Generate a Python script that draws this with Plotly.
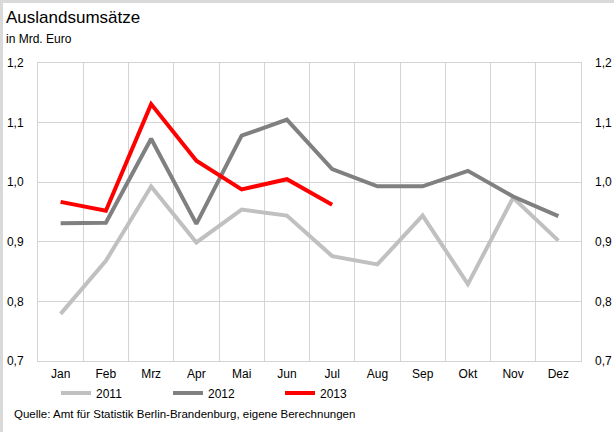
import plotly.graph_objects as go

months = ["Jan", "Feb", "Mrz", "Apr", "Mai", "Jun", "Jul", "Aug", "Sep", "Okt", "Nov", "Dez"]
v2011 = [0.779, 0.868, 0.993, 0.899, 0.954, 0.944, 0.876, 0.862, 0.944, 0.829, 0.974, 0.902]
v2012 = [0.931, 0.932, 1.073, 0.930, 1.078, 1.105, 1.022, 0.993, 0.993, 1.019, 0.976, 0.943]
v2013 = [0.967, 0.952, 1.131, 1.036, 0.988, 1.005, 0.962]
series_names = ["2011", "2012", "2013"]
series_colors = ["#c0c0c0", "#808080", "#ff0000"]
y_ticks = [0.7, 0.8, 0.9, 1.0, 1.1, 1.2]

FONT = "Liberation Sans, Arial, sans-serif"
GRID = "#d4d4d4"

fig = go.Figure()
for name, vals, col in zip(series_names, [v2011, v2012, v2013], series_colors):
    fig.add_trace(go.Scatter(x=months[:len(vals)], y=vals, name=name, mode="lines",
                             line=dict(color=col, width=4), yaxis="y"))
# helper trace for right axis
fig.add_trace(go.Scatter(x=months, y=[None] * len(months), yaxis="y2", showlegend=False,
                         hoverinfo="skip"))

L, R, T, B = 38, 33, 63, 71
W, H = 614, 432
pw, ph = W - L - R, H - T - B

def px(x):
    return (x - L) / pw

def py(y):
    return 1 - (y - T) / ph

fig.update_layout(
    width=W, height=H,
    margin=dict(l=L, r=R, t=T, b=B, autoexpand=False),
    paper_bgcolor="white", plot_bgcolor="white",
    separators=",.",
    font=dict(family=FONT, size=12, color="#000"),
    xaxis=dict(type="category", tickson="boundaries", showgrid=True, gridcolor=GRID, gridwidth=1,
               showline=True, linecolor=GRID, linewidth=1, mirror=True, ticks="", automargin=False,
               ticklabelstandoff=2, tickfont=dict(size=12), range=[-0.5, 11.5], fixedrange=True),
    yaxis=dict(range=[0.7, 1.2], tickvals=y_ticks, tickformat=".1f", showgrid=True, gridcolor=GRID,
               showline=True, linecolor=GRID, linewidth=1, mirror=True, ticks="", zeroline=False,
               automargin=False, ticklabelstandoff=11, tickfont=dict(size=12)),
    yaxis2=dict(range=[0.7, 1.2], tickvals=y_ticks, tickformat=".1f", overlaying="y", side="right",
                showgrid=False, zeroline=False, ticks="", automargin=False, ticklabelstandoff=13,
                tickfont=dict(size=12)),
    legend=dict(orientation="h", x=px(56), y=py(393), xanchor="left", yanchor="middle",
                entrywidth=67, font=dict(size=12), bgcolor="rgba(0,0,0,0)"),
    showlegend=True,
)

fig.add_annotation(text="Auslandsumsätze", xref="paper", yref="paper", x=px(4), y=py(18),
                   xanchor="left", yanchor="middle", showarrow=False, font=dict(size=17))
fig.add_annotation(text="in Mrd. Euro", xref="paper", yref="paper", x=px(4), y=py(39),
                   xanchor="left", yanchor="middle", showarrow=False, font=dict(size=12))
fig.add_annotation(text="Quelle: Amt für Statistik Berlin-Brandenburg, eigene Berechnungen",
                   xref="paper", yref="paper", x=px(12), y=py(414), xanchor="left", yanchor="middle",
                   showarrow=False, font=dict(size=11.5))

# outer frame (top and left)
fig.add_shape(type="line", xref="paper", yref="paper", x0=px(0), x1=px(W), y0=py(1.5), y1=py(1.5),
              line=dict(color="#d9d9d9", width=3))
fig.add_shape(type="line", xref="paper", yref="paper", x0=px(1.5), x1=px(1.5), y0=py(0), y1=py(H),
              line=dict(color="#d9d9d9", width=3))

fig.write_html("out.html", config={"displayModeBar": False},
               post_script="document.body.style.margin='0';document.body.style.overflow='hidden';")
